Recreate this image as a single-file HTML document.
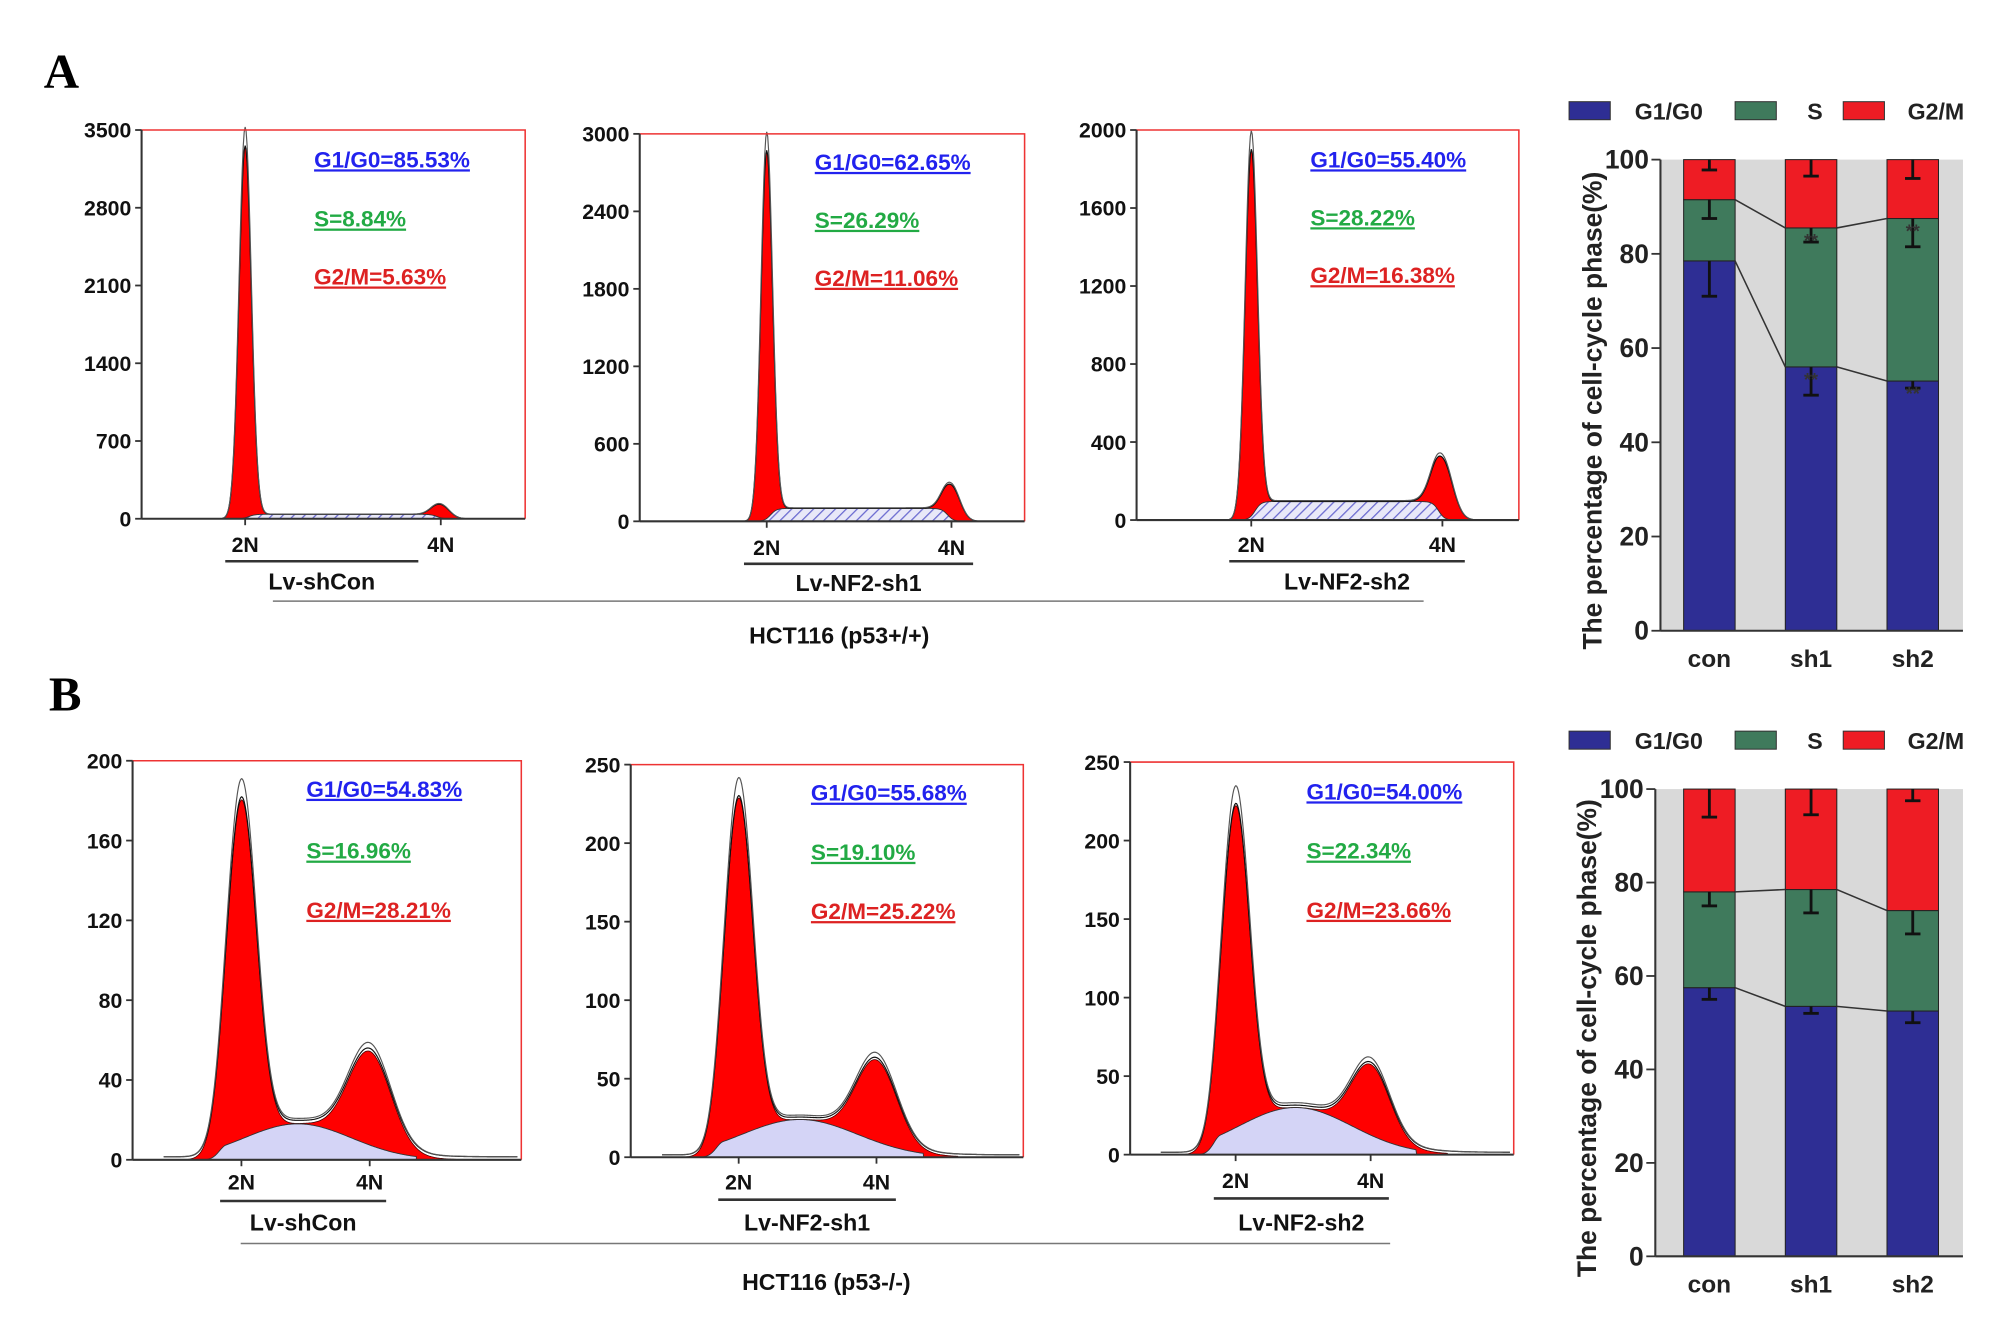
<!DOCTYPE html>
<html><head><meta charset="utf-8">
<style>
html,body{margin:0;padding:0;background:#fff;}
svg{display:block;}
text{font-family:"Liberation Sans",Arial,sans-serif;font-weight:bold;}
</style></head>
<body>
<svg id="fig" width="2008" height="1331" viewBox="0 0 1560 1034" preserveAspectRatio="none" xmlns="http://www.w3.org/2000/svg">
<defs>
<pattern id="hatch" patternUnits="userSpaceOnUse" width="6" height="6" patternTransform="rotate(45)">
<rect width="6" height="6" fill="#e8e8f8"/><line x1="0" y1="0" x2="0" y2="6" stroke="#6b6bd0" stroke-width="2"/>
</pattern>
</defs>
</svg>
<script>
// ---- Histogram panel data (channel axis 0-100; counts) ----
const histNames = ["Lv-shCon","Lv-NF2-sh1","Lv-NF2-sh2","Lv-shCon","Lv-NF2-sh1","Lv-NF2-sh2"];
const histYMax = [3500,3000,2000,200,250,250];
const histYTicks = [[0,700,1400,2100,2800,3500],[0,600,1200,1800,2400,3000],[0,400,800,1200,1600,2000],[0,40,80,120,160,200],[0,50,100,150,200,250],[0,50,100,150,200,250]];
const histG1Pos = [27,33,30,28,27.5,27.5];
const histG2Pos = [78,81,80,61,62.6,62.7];
const histG1Height = [3350,2850,1880,170,215,205];
const histG2Height = [120,260,300,47,52,45];
const histSHeight = [40,100,95,18,24,30];
const histG1Width = [1.6,1.5,1.6,3.8,3.6,3.6];
const histG2Width = [2.2,2.2,2.6,5.5,5.2,5.0];
const histG1Text = ["G1/G0=85.53%","G1/G0=62.65%","G1/G0=55.40%","G1/G0=54.83%","G1/G0=55.68%","G1/G0=54.00%"];
const histSText = ["S=8.84%","S=26.29%","S=28.22%","S=16.96%","S=19.10%","S=22.34%"];
const histG2Text = ["G2/M=5.63%","G2/M=11.06%","G2/M=16.38%","G2/M=28.21%","G2/M=25.22%","G2/M=23.66%"];

// ---- Stacked bar data ----
const barCats = ["con","sh1","sh2"];
const barTicks = [0,20,40,60,80,100];
const aG1 = [78.5,56,53];
const aS = [13,29.5,34.5];
const aG2 = [8.5,14.5,12.5];
const aErrG1 = [71,50,51.5];
const aErrS = [87.5,82.5,81.5];
const aErrG2 = [97.8,96.5,96];
const bG1 = [57.5,53.5,52.5];
const bS = [20.5,25,21.5];
const bG2 = [22,21.5,26];
const bErrG1 = [55,52,50];
const bErrS = [75,73.5,69];
const bErrG2 = [94,94.5,97.5];

const NS="http://www.w3.org/2000/svg";
const svg=document.getElementById('fig');
function mk(tag,attrs,parent,txt){const e=document.createElementNS(NS,tag);for(const k in attrs)e.setAttribute(k,attrs[k]);if(txt!==undefined)e.textContent=txt;(parent||svg).appendChild(e);return e;}

const geo=[
 {l:110,r:408,t:101,b:403,tx:244,ty:[124,170,215],ul:[175,325],ly:[423,436,452]},
 {l:497,r:796,t:104,b:405,tx:633,ty:[126,171,216],ul:[578,756],ly:[425,438,453]},
 {l:883,r:1180,t:101,b:404,tx:1018,ty:[124,169,214],ul:[955,1138],ly:[423,436,452]},
 {l:103,r:405,t:591,b:901,tx:238,ty:[613,661,707],ul:[171,300],ly:[918,933,950]},
 {l:490,r:795,t:594,b:899,tx:630,ty:[616,662,708],ul:[558,696],ly:[918,932,950]},
 {l:878,r:1176,t:592,b:897,tx:1015,ty:[615,661,707],ul:[943,1079],ly:[917,931,950]}
];
function gauss(c,m,s){return Math.exp(-0.5*((c-m)/s)**2);}
function sDist(i,c){
  const a=histG1Pos[i],b=histG2Pos[i];
  if(i<3){
    return histSHeight[i]/( (1+Math.exp(-(c-a-1)/0.8))*(1+Math.exp((c-b+1)/0.8)) );
  } else {
    const m=(a+b)/2-2, s=(b-a)*0.42;
    return histSHeight[i]*gauss(c,m,s)*(c<a-4?gauss(c,a-4,2):1);
  }
}
geo.forEach((g,i)=>{
  const grp=mk('g',{});
  
  
  const X=c=>g.l+c/100*(g.r-g.l);
  const Y=v=>g.b-v/histYMax[i]*(g.b-g.t);
  const step=0.25;
  function path(f,c0,c1,close){let d='';for(let c=c0;c<=c1;c+=step){d+=(d?'L':'M')+X(c).toFixed(2)+','+Y(Math.min(f(c),histYMax[i]*1.02)).toFixed(2);}if(close)d+='L'+X(c1)+','+g.b+'L'+X(c0)+','+g.b+'Z';return d;}
  const g1=c=>histG1Height[i]*gauss(c,histG1Pos[i],histG1Width[i]);
  const g2=c=>histG2Height[i]*gauss(c,histG2Pos[i],histG2Width[i]);
  const s=c=>sDist(i,c);
  const p1=mk('path',{d:path(c=>g1(c)+s(c),histG1Pos[i]-4.5*histG1Width[i],histG1Pos[i]+4.5*histG1Width[i],true),fill:'#f00',stroke:'#400',"stroke-width":0.6},grp);
  
  const p2=mk('path',{d:path(c=>g2(c)+s(c),histG2Pos[i]-4*histG2Width[i],histG2Pos[i]+4*histG2Width[i],true),fill:'#f00',stroke:'#400',"stroke-width":0.6},grp);
  
  const sp=mk('path',{d:path(s,histG1Pos[i]-(i<3?3:10),histG2Pos[i]+(i<3?3:12),true),fill:i<3?'url(#hatch)':'#d4d4f6',stroke:'#333',"stroke-width":0.7},grp);
  
  const tot=c=>g1(c)+g2(c)+s(c)+(i>=3?1.5:0);
  for(let k=0;k<2;k++){
    const e=mk('path',{d:path(c=>tot(c)*(1+0.05*k),8,99,false),fill:'none',stroke:k?'#555':'#111',"stroke-width":0.9},grp);
    
  }
  const fr=mk('polyline',{points:`${g.l},${g.t} ${g.r},${g.t} ${g.r},${g.b}`,fill:'none',stroke:'#e33',"stroke-width":1.2},grp);
  
  mk('line',{x1:g.l,y1:g.t,x2:g.l,y2:g.b,stroke:'#333',"stroke-width":1.6},grp);
  mk('line',{x1:g.l,y1:g.b,x2:g.r,y2:g.b,stroke:'#333',"stroke-width":1.6},grp);
  histYTicks[i].forEach(t=>{
    mk('line',{x1:g.l-5,y1:Y(t),x2:g.l,y2:Y(t),stroke:'#333',"stroke-width":1.4},grp);
    const tl=mk('text',{x:g.l-8,y:Y(t)+6,"text-anchor":"end","font-size":16.5,fill:'#111'},grp,String(t));
    
  });
  ['2N','4N'].forEach((lb,j)=>{
    const c=j?histG2Pos[i]:histG1Pos[i];
    mk('line',{x1:X(c),y1:g.b,x2:X(c),y2:g.b+5,stroke:'#333',"stroke-width":1.4},grp);
    const t=mk('text',{x:X(c),y:g.ly[0]+6,"text-anchor":"middle","font-size":16.5,fill:'#111'},grp,lb);
    
  });
  mk('line',{x1:g.ul[0],y1:g.ly[1],x2:g.ul[1],y2:g.ly[1],stroke:'#333',"stroke-width":2},grp);
  const nm=mk('text',{x:(g.ul[0]+g.ul[1])/2,y:g.ly[2]+6,"text-anchor":"middle","font-size":18,fill:'#111'},grp,histNames[i]);
  
  [[histG1Text,'#2222ee','g1-percentage'],[histSText,'#22aa44','s-percentage'],[histG2Text,'#dd2222','g2-percentage']].forEach((a,j)=>{
    const t=mk('text',{x:g.tx,y:g.ty[j]+6,"font-size":17.5,fill:a[1],"text-decoration":"underline"},grp,a[0][i]);
    
  });
});

mk('line',{x1:212,y1:467,x2:1106,y2:467,stroke:'#777',"stroke-width":1.2});
mk('line',{x1:187,y1:966,x2:1080,y2:966,stroke:'#777',"stroke-width":1.2});
let t;
t=mk('text',{x:652,y:500,"text-anchor":"middle","font-size":18,fill:'#111'},svg,'HCT116 (p53+/+)');

t=mk('text',{x:642,y:1002,"text-anchor":"middle","font-size":18,fill:'#111'},svg,'HCT116 (p53-/-)');

t=mk('text',{x:34,y:68,"font-size":38,fill:'#000',style:'font-family:"Liberation Serif",serif'},svg,'A');

t=mk('text',{x:38,y:552,"font-size":38,fill:'#000',style:'font-family:"Liberation Serif",serif'},svg,'B');


function barChart(cfg,G1,S,G2,eG1,eS,eG2,stars){
  const grp=mk('g',{});
  
  
  const Y=v=>cfg.y0-v/100*(cfg.y0-cfg.y100);
  const bx=[1308,1387,1466], bw=40;
  mk('rect',{x:cfg.ax,y:cfg.y100,width:1525-cfg.ax,height:cfg.y0-cfg.y100,fill:'#d9d9d9'},grp);
  const cols=['#2e2e94','#3f7a5c','#ee1c24'];
  barCats.forEach((c,i)=>{
    const vals=[G1[i],S[i],G2[i]];let base=0;
    vals.forEach((v,k)=>{
      const r=mk('rect',{x:bx[i],y:Y(base+v),width:bw,height:Y(base)-Y(base+v),fill:cols[k],stroke:'#222',"stroke-width":0.8},grp);
      
      
      base+=v;
    });
    [[eG1[i],G1[i]],[eS[i],G1[i]+S[i]],[eG2[i],100]].forEach(e=>{
      const cx=bx[i]+bw/2;
      mk('line',{x1:cx,y1:Y(e[1]),x2:cx,y2:Y(e[0]),stroke:'#111',"stroke-width":2.2},grp);
      mk('line',{x1:cx-6,y1:Y(e[0]),x2:cx+6,y2:Y(e[0]),stroke:'#111',"stroke-width":2.2},grp);
    });
    const lb=mk('text',{x:bx[i]+bw/2,y:cfg.y0+28,"text-anchor":"middle","font-size":19,fill:'#222'},grp,c);
    
    if(stars&&i>0){
      mk('text',{x:bx[i]+bw/2,y:Y(G1[i]+S[i]-4),"text-anchor":"middle","font-size":14,fill:'#333'},grp,'**');
      mk('text',{x:bx[i]+bw/2,y:Y(G1[i]-4),"text-anchor":"middle","font-size":14,fill:'#333'},grp,'**');
    }
  });
  for(let i=0;i<2;i++){
    [[G1[i],G1[i+1]],[G1[i]+S[i],G1[i+1]+S[i+1]]].forEach(p=>{
      mk('line',{x1:bx[i]+bw,y1:Y(p[0]),x2:bx[i+1],y2:Y(p[1]),stroke:'#333',"stroke-width":1.2},grp);
    });
  }
  mk('line',{x1:cfg.ax,y1:cfg.y100,x2:cfg.ax,y2:cfg.y0,stroke:'#333',"stroke-width":1.6},grp);
  mk('line',{x1:cfg.ax,y1:cfg.y0,x2:1525,y2:cfg.y0,stroke:'#333',"stroke-width":1.6},grp);
  barTicks.forEach(v=>{
    mk('line',{x1:cfg.ax-7,y1:Y(v),x2:cfg.ax,y2:Y(v),stroke:'#333',"stroke-width":1.4},grp);
    const tl=mk('text',{x:cfg.ax-9,y:Y(v)+7,"text-anchor":"end","font-size":20.5,fill:'#222'},grp,String(v));
    
  });
  const yt=mk('text',{x:0,y:0,transform:`translate(${cfg.ax-46},${(cfg.y0+cfg.y100)/2+12}) rotate(-90)`,"text-anchor":"middle","font-size":20.5,fill:'#222'},grp,'The percentage of cell-cycle phase(%)');
  
  const lg=[['G1/G0',1219,1270],['S',1348,1404],['G2/M',1432,1482]];
  lg.forEach((l,k)=>{
    const r=mk('rect',{x:l[1],y:cfg.ly-7,width:32,height:14,fill:cols[k],stroke:'#333',"stroke-width":0.8},grp);
    
    const tx=mk('text',{x:l[2],y:cfg.ly+7,"font-size":18,fill:'#222'},grp,l[0]);
    
  });
}
barChart({name:'stacked-bar-a',ax:1290,y100:124,y0:490,ly:86},aG1,aS,aG2,aErrG1,aErrS,aErrG2,true);
barChart({name:'stacked-bar-b',ax:1286,y100:613,y0:976,ly:575},bG1,bS,bG2,bErrG1,bErrS,bErrG2,false);
</script>
</body></html>
